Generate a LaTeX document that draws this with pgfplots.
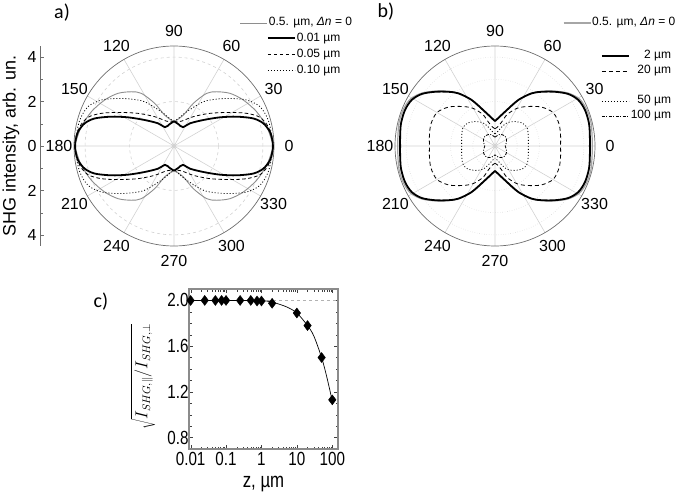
\documentclass[border=0pt]{standalone}
\usepackage{fontspec}
\setmainfont{Liberation Sans}
\newfontfamily\carlito{Carlito}
\newfontfamily\narrow[FakeStretch=0.8]{Liberation Sans}
\usepackage{pgfplots}
\pgfplotsset{compat=1.18}
\usepgfplotslibrary{polar}
\definecolor{grayc}{HTML}{8E8E8E}
\definecolor{grayb}{HTML}{A6A6A6}
\definecolor{gridc}{HTML}{D2D2D2}
\definecolor{framec}{HTML}{6E6E6E}
\pgfplotsset{
  mypolar/.style={
    scale only axis, width=200pt, height=200pt,
    ymin=0, ymax=4.5,
    xtick={0,30,...,330},
    xticklabels={0,30,60,90,120,150,180,210,240,270,300,330},
    xticklabel style={font=\fontsize{16}{16}\selectfont, anchor=center, inner sep=0pt,
      xshift={15*cos(\tick)}, yshift={15*sin(\tick)}},
    yticklabels={},
    xmajorgrids, ymajorgrids,
    major tick length=0pt,
    axis line style={framec, line width=0.7pt},
    y axis line style={draw=none},
    clip=false,
  },
  legline/.style={legend image code/.code={\draw[##1] (0pt,0pt) -- (27pt,0pt);}},
  helper/.style={at={(0pt,0pt)}, anchor=north west, scale only axis,
    width=677pt, height=494pt, xmin=0, xmax=677, ymin=-494, ymax=0, hide axis,
    legend style={draw=none, fill=none, inner sep=0pt, outer sep=0pt,
      font=\fontsize{12}{14}\selectfont,
      nodes={inner sep=1pt, text height=9pt, text depth=3pt},
      row sep=1pt, column sep=0pt}},
}
\begin{document}
\begin{tikzpicture}
\useasboundingbox (0pt,0pt) rectangle (677pt,-494pt);

% ---------------- a) ----------------
\begin{polaraxis}[mypolar, at={(174pt,-146pt)}, anchor=center,
  ytick={2,4},
  major x grid style={gridc, line width=0.6pt},
  major y grid style={gridc, dashed, line width=0.6pt},
]
% 0.5 um, dn=0 (gray)
\addplot[grayc, line width=0.9pt, smooth, data cs=cart] coordinates {(0,1.08) (0.42,1.39) (0.87,1.92) (1.47,2.37) (1.92,2.44) (2.52,2.37) (3.12,2.07) (3.72,1.54) (4.17,0.87) (4.39,0.27) (4.47,0) (4.39,-0.27) (4.17,-0.87) (3.72,-1.54) (3.12,-2.07) (2.52,-2.37) (1.92,-2.44) (1.47,-2.37) (0.87,-1.92) (0.42,-1.39) (0,-1.08)};
\addplot[grayc, line width=0.9pt, smooth, data cs=cart] coordinates {(0,1.08) (-0.42,1.39) (-0.87,1.92) (-1.47,2.37) (-1.92,2.44) (-2.52,2.37) (-3.12,2.07) (-3.72,1.54) (-4.17,0.87) (-4.39,0.27) (-4.47,0) (-4.39,-0.27) (-4.17,-0.87) (-3.72,-1.54) (-3.12,-2.07) (-2.52,-2.37) (-1.92,-2.44) (-1.47,-2.37) (-0.87,-1.92) (-0.42,-1.39) (0,-1.08)};
% 0.10 um dotted
\addplot[black, line width=0.8pt, dash pattern=on 1pt off 2pt, smooth, data cs=cart] coordinates {(0,1.1) (0.25,1.28) (0.57,1.54) (1.32,1.99) (1.92,2.11) (2.52,2.14) (3.27,2.07) (3.87,1.77) (4.24,1.17) (4.41,0.42) (4.47,0) (4.41,-0.42) (4.24,-1.17) (3.87,-1.77) (3.27,-2.07) (2.52,-2.14) (1.92,-2.11) (1.32,-1.99) (0.57,-1.54) (0.25,-1.28) (0,-1.1)};
\addplot[black, line width=0.8pt, dash pattern=on 1pt off 2pt, smooth, data cs=cart] coordinates {(0,1.1) (-0.25,1.28) (-0.57,1.54) (-1.32,1.99) (-1.92,2.11) (-2.52,2.14) (-3.27,2.07) (-3.87,1.77) (-4.24,1.17) (-4.41,0.42) (-4.47,0) (-4.41,-0.42) (-4.24,-1.17) (-3.87,-1.77) (-3.27,-2.07) (-2.52,-2.14) (-1.92,-2.11) (-1.32,-1.99) (-0.57,-1.54) (-0.25,-1.28) (0,-1.1)};
% 0.05 um dashed
\addplot[black, line width=0.8pt, dash pattern=on 3.5pt off 2.5pt, smooth, data cs=cart] coordinates {(0,1.08) (0.34,1.12) (0.87,1.32) (1.62,1.47) (2.52,1.51) (3.27,1.47) (3.87,1.29) (4.24,0.87) (4.42,0.27) (4.47,0) (4.42,-0.27) (4.24,-0.87) (3.87,-1.29) (3.27,-1.47) (2.52,-1.51) (1.62,-1.47) (0.87,-1.32) (0.34,-1.12) (0,-1.08)};
\addplot[black, line width=0.8pt, dash pattern=on 3.5pt off 2.5pt, smooth, data cs=cart] coordinates {(0,1.08) (-0.34,1.12) (-0.87,1.32) (-1.62,1.47) (-2.52,1.51) (-3.27,1.47) (-3.87,1.29) (-4.24,0.87) (-4.42,0.27) (-4.47,0) (-4.42,-0.27) (-4.24,-0.87) (-3.87,-1.29) (-3.27,-1.47) (-2.52,-1.51) (-1.62,-1.47) (-0.87,-1.32) (-0.34,-1.12) (0,-1.08)};
% 0.01 um solid thick
\addplot[black, line width=1.8pt, smooth, data cs=cart] coordinates {(0,1.12) (0.2,0.98) (0.4,0.85) (0.72,1.02) (1.32,1.17) (2.07,1.29) (2.82,1.32) (3.57,1.24) (4.02,1.02) (4.32,0.64) (4.42,0.3) (4.45,0) (4.42,-0.3) (4.32,-0.64) (4.02,-1.02) (3.57,-1.24) (2.82,-1.32) (2.07,-1.29) (1.32,-1.17) (0.72,-1.02) (0.4,-0.85) (0.2,-0.98) (0,-1.12)};
\addplot[black, line width=1.8pt, smooth, data cs=cart] coordinates {(0,1.12) (-0.2,0.98) (-0.4,0.85) (-0.72,1.02) (-1.32,1.17) (-2.07,1.29) (-2.82,1.32) (-3.57,1.24) (-4.02,1.02) (-4.32,0.64) (-4.42,0.3) (-4.45,0) (-4.42,-0.3) (-4.32,-0.64) (-4.02,-1.02) (-3.57,-1.24) (-2.82,-1.32) (-2.07,-1.29) (-1.32,-1.17) (-0.72,-1.02) (-0.4,-0.85) (-0.2,-0.98) (0,-1.12)};
\end{polaraxis}

% left intensity scale of a)
\begin{axis}[at={(40pt,-246pt)}, anchor=south west, scale only axis,
  width=10pt, height=200pt, xmin=0, xmax=1, ymin=-4.5, ymax=4.5,
  axis x line=none, axis y line=left, axis line style={-, framec, line width=0.6pt},
  ytick={-4,-2,0,2,4}, yticklabels={4,2,0,2,4},
  minor ytick={-3,-1,1,3},
  tick align=inside, major tick length=4pt, minor tick length=2.5pt,
  tick style={framec},
  yticklabel style={font=\fontsize{16}{16}\selectfont},
  ylabel={SHG intensity, arb. un.},
  ylabel style={font=\fontsize{18}{18}\selectfont, at={(axis description cs:-2.9,0.5)}, anchor=center},
]
\addplot[draw=none] coordinates {(0.5,0)};
\end{axis}

% ---------------- b) ----------------
\begin{polaraxis}[mypolar, at={(495pt,-146pt)}, anchor=center,
  ytick={1,2,3,4},
  major x grid style={gridc, line width=0.6pt},
  major y grid style={gridc, dotted, line width=0.6pt},
]
% 0.5 um, dn=0 gray
\addplot[grayb, line width=1.2pt, smooth, data cs=cart] coordinates {(0,1.1) (0.45,1.56) (1.05,2.08) (1.65,2.38) (2.1,2.46) (2.7,2.47) (3.3,2.38) (3.8,2.12) (4.12,1.66) (4.32,1.05) (4.37,0.43) (4.38,0) (4.37,-0.43) (4.32,-1.05) (4.12,-1.66) (3.8,-2.12) (3.3,-2.38) (2.7,-2.47) (2.1,-2.46) (1.65,-2.38) (1.05,-2.08) (0.45,-1.56) (0,-1.1)};
\addplot[grayb, line width=1.2pt, smooth, data cs=cart] coordinates {(0,1.1) (-0.45,1.56) (-1.05,2.08) (-1.65,2.38) (-2.1,2.46) (-2.7,2.47) (-3.3,2.38) (-3.8,2.12) (-4.12,1.66) (-4.32,1.05) (-4.37,0.43) (-4.38,0) (-4.37,-0.43) (-4.32,-1.05) (-4.12,-1.66) (-3.8,-2.12) (-3.3,-2.38) (-2.7,-2.47) (-2.1,-2.46) (-1.65,-2.38) (-1.05,-2.08) (-0.45,-1.56) (0,-1.1)};
% 2 um
\addplot[black, line width=1.8pt, smooth, data cs=cart] coordinates {(0,1.12) (0.45,1.54) (1.05,2.07) (1.65,2.37) (2.1,2.44) (2.7,2.44) (3.3,2.34) (3.75,2.07) (4.05,1.62) (4.23,1.02) (4.27,0.42) (4.27,0) (4.27,-0.42) (4.23,-1.02) (4.05,-1.62) (3.75,-2.07) (3.3,-2.34) (2.7,-2.44) (2.1,-2.44) (1.65,-2.37) (1.05,-2.07) (0.45,-1.54) (0,-1.12)};
\addplot[black, line width=1.8pt, smooth, data cs=cart] coordinates {(0,1.12) (-0.45,1.54) (-1.05,2.07) (-1.65,2.37) (-2.1,2.44) (-2.7,2.44) (-3.3,2.34) (-3.75,2.07) (-4.05,1.62) (-4.23,1.02) (-4.27,0.42) (-4.27,0) (-4.27,-0.42) (-4.23,-1.02) (-4.05,-1.62) (-3.75,-2.07) (-3.3,-2.34) (-2.7,-2.44) (-2.1,-2.44) (-1.65,-2.37) (-1.05,-2.07) (-0.45,-1.54) (0,-1.12)};
% 20 um dashed
\addplot[black, line width=0.8pt, dash pattern=on 4pt off 3pt, smooth, data cs=cart] coordinates {(0,0.78) (0.12,0.86) (0.3,1.08) (0.55,1.42) (1.0,1.7) (1.5,1.78) (2.1,1.75) (2.62,1.5) (2.88,1.0) (2.95,0.5) (2.95,0) (2.95,-0.5) (2.88,-1.0) (2.62,-1.5) (2.1,-1.75) (1.5,-1.78) (1.0,-1.7) (0.55,-1.42) (0.3,-1.08) (0.12,-0.86) (0,-0.78)};
\addplot[black, line width=0.8pt, dash pattern=on 4pt off 3pt, smooth, data cs=cart] coordinates {(0,0.78) (-0.12,0.86) (-0.3,1.08) (-0.55,1.42) (-1.0,1.7) (-1.5,1.78) (-2.1,1.75) (-2.62,1.5) (-2.88,1.0) (-2.95,0.5) (-2.95,0) (-2.95,-0.5) (-2.88,-1.0) (-2.62,-1.5) (-2.1,-1.75) (-1.5,-1.78) (-1.0,-1.7) (-0.55,-1.42) (-0.3,-1.08) (-0.12,-0.86) (0,-0.78)};
% 50 um dotted
\addplot[black, line width=0.8pt, dash pattern=on 1pt off 2pt, smooth, data cs=cart] coordinates {(0,0.55) (0.12,0.65) (0.3,0.85) (0.55,1.05) (0.9,1.1) (1.25,1.02) (1.45,0.8) (1.5,0.4) (1.5,0) (1.5,-0.4) (1.45,-0.8) (1.25,-1.02) (0.9,-1.1) (0.55,-1.05) (0.3,-0.85) (0.12,-0.65) (0,-0.55)};
\addplot[black, line width=0.8pt, dash pattern=on 1pt off 2pt, smooth, data cs=cart] coordinates {(0,0.55) (-0.12,0.65) (-0.3,0.85) (-0.55,1.05) (-0.9,1.1) (-1.25,1.02) (-1.45,0.8) (-1.5,0.4) (-1.5,0) (-1.5,-0.4) (-1.45,-0.8) (-1.25,-1.02) (-0.9,-1.1) (-0.55,-1.05) (-0.3,-0.85) (-0.12,-0.65) (0,-0.55)};
% 100 um dash-dot
\addplot[black, line width=0.8pt, dash pattern=on 3pt off 1.5pt on 1pt off 1.5pt, smooth, data cs=cart] coordinates {(0,0.4) (0.05,0.43) (0.14,0.5) (0.3,0.52) (0.45,0.45) (0.52,0.3) (0.5,0.12) (0.46,0) (0.5,-0.12) (0.52,-0.3) (0.45,-0.45) (0.3,-0.52) (0.14,-0.5) (0.05,-0.43) (0,-0.4)};
\addplot[black, line width=0.8pt, dash pattern=on 3pt off 1.5pt on 1pt off 1.5pt, smooth, data cs=cart] coordinates {(0,0.4) (-0.05,0.43) (-0.14,0.5) (-0.3,0.52) (-0.45,0.45) (-0.52,0.3) (-0.5,0.12) (-0.46,0) (-0.5,-0.12) (-0.52,-0.3) (-0.45,-0.45) (-0.3,-0.52) (-0.14,-0.5) (-0.05,-0.43) (0,-0.4)};
\end{polaraxis}

% ---------------- legends ----------------
\begin{axis}[helper, legend style={at={(0.3545,0.9676)}, anchor=north west}]
\addplot[draw=none, forget plot] coordinates {(0,0)};
\addlegendimage{grayc, line width=0.9pt, legline}
\addlegendentry{0.5. µm, \textit{Δn} = 0}
\end{axis}
\begin{axis}[helper, legend style={at={(0.3944,0.9372)}, anchor=north west, row sep=2pt}]
\addplot[draw=none, forget plot] coordinates {(0,0)};
\addlegendimage{black, line width=1.8pt, legline}
\addlegendentry{0.01 µm}
\addlegendimage{black, line width=0.8pt, dash pattern=on 3.5pt off 2.5pt, legline}
\addlegendentry{0.05 µm}
\addlegendimage{black, line width=0.8pt, dash pattern=on 1pt off 2pt, legline}
\addlegendentry{0.10 µm}
\end{axis}
\begin{axis}[helper, legend style={at={(0.8316,0.9676)}, anchor=north west}]
\addplot[draw=none, forget plot] coordinates {(0,0)};
\addlegendimage{grayb, line width=1.2pt, legline}
\addlegendentry{0.5. µm, \textit{Δn} = 0}
\end{axis}
\begin{axis}[helper, legend cell align=right, legend style={at={(0.8877,0.9008)}, anchor=north west}]
\addplot[draw=none, forget plot] coordinates {(0,0)};
\addlegendimage{black, line width=1.8pt, legline}
\addlegendentry{2 µm}
\addlegendimage{black, line width=0.8pt, dash pattern=on 4pt off 3pt, legline}
\addlegendentry{20 µm}
\addlegendimage{empty legend}
\addlegendentry{}
\addlegendimage{black, line width=0.8pt, dash pattern=on 1pt off 2pt, legline}
\addlegendentry{50 µm}
\addlegendimage{black, line width=0.8pt, dash pattern=on 3pt off 1.5pt on 1pt off 1.5pt, legline}
\addlegendentry{100 µm}
\end{axis}

% ---------------- c) ----------------
\begin{axis}[at={(189pt,-449pt)}, anchor=south west, scale only axis,
  width=149pt, height=160pt,
  xmode=log, xmin=0.009, xmax=145, ymin=0.7, ymax=2.1,
  xtick={0.01,0.1,1,10,100}, xticklabels={0.01,0.1,1,10,100},
  ytick={0.8,1.2,1.6,2.0}, yticklabels={0.8,1.2,1.6,2.0},
  minor ytick={0.9,1.0,1.1,1.3,1.4,1.5,1.7,1.8,1.9},
  tick align=inside, major tick length=4pt, minor tick length=2.5pt,
  tick style={black!75},
  axis line style={framec!80, line width=1.3pt},
  ticklabel style={font=\narrow\fontsize{19}{19}\selectfont},
  yticklabel style={xshift=3pt},
  xlabel={z, µm},
  xlabel style={font=\narrow\fontsize{21}{21}\selectfont, at={(axis description cs:0.5,-0.219)}, anchor=center},
  ylabel={$\sqrt{I_{SHG,\parallel}/I_{SHG,\perp}}$},
  ylabel style={font=\fontsize{16}{16}\selectfont, at={(axis description cs:-0.309,0.453)}, anchor=center},
  clip=false,
]
\addplot[gray!60, line width=0.7pt, dashed] coordinates {(0.009,2.0) (145,2.0)};
\addplot[black, line width=0.7pt, smooth] coordinates {(0.01,2.0) (0.1,2.0) (1,1.997) (2,1.985) (5,1.945) (10,1.89) (20,1.78) (30,1.69) (50,1.5) (70,1.33) (100,1.12)};
\addplot[only marks, mark=diamond*, mark size=5pt, mark options={fill=black, draw=black}] coordinates {(0.01,2.0) (0.025,2.0) (0.05,2.0) (0.075,2.0) (0.1,2.0) (0.25,2.0) (0.5,2.0) (0.75,1.995) (1,1.995) (2,1.975) (10,1.89) (20,1.78) (50,1.5) (100,1.13)};
\end{axis}

% panel labels
\node[font=\carlito\fontsize{20}{20}\selectfont] at (62pt,-13pt) {a)};
\node[font=\carlito\fontsize{20}{20}\selectfont] at (386pt,-12pt) {b)};
\node[font=\carlito\fontsize{20}{20}\selectfont] at (101pt,-302pt) {c)};
\end{tikzpicture}
\end{document}
